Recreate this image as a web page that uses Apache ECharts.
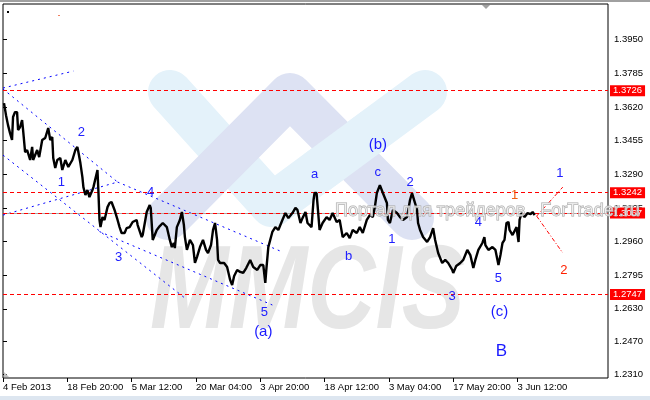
<!DOCTYPE html>
<html><head><meta charset="utf-8">
<script src="https://cdn.jsdelivr.net/npm/echarts@6/dist/echarts.min.js"></script>
<style>html,body{margin:0;padding:0;background:#fff}#c{width:650px;height:400px}</style>
</head><body><div id="c"></div>
<script>
// ---- data ----
const dateLabels = ['4 Feb 2013','18 Feb 20:00','5 Mar 12:00','20 Mar 04:00','3 Apr 20:00','18 Apr 12:00','3 May 04:00','17 May 20:00','3 Jun 12:00'];
const barsPerLabel = 64;
const priceTicks = [1.2310,1.2470,1.2630,1.2795,1.2960,1.3125,1.3290,1.3455,1.3620,1.3785,1.3950];

const priceBars = [1,3,5,7,9,10,12,14,15,17,19,20,22,24,27,29,30,34,36,39,42,45,47,49,50,52,54,57,59,62,65,69,72,74,75,77,79,80,82,84,86,89,90,94,95,96,97,99,101,104,106,108,111,114,116,118,121,123,126,129,133,134,138,139,143,146,147,149,153,156,159,163,166,168,170,171,173,176,178,180,181,183,186,189,191,193,196,199,202,204,207,209,211,213,214,216,220,223,226,228,230,233,236,239,242,246,249,253,256,259,261,262,264,268,271,274,278,281,284,288,291,293,296,298,301,303,307,309,310,312,313,315,318,322,325,328,332,335,338,342,345,348,352,355,358,362,365,368,370,372,375,378,382,383,385,388,392,395,398,402,405,407,410,412,413,415,418,422,425,428,430,433,437,440,443,447,448,451,455,458,462,465,468,470,473,477,479,480,483,487,490,492,493,495,497,499,501,503,504,507,511,512,513,514,516,519,522,525,527,529];
const priceValues = [1.3639,1.3580,1.3531,1.3492,1.3458,1.3571,1.3595,1.3595,1.3507,1.3522,1.3556,1.3507,1.3399,1.3409,1.3360,1.3424,1.3360,1.3409,1.3374,1.3458,1.3468,1.3517,1.3458,1.3473,1.3370,1.3321,1.3360,1.3370,1.3311,1.3360,1.3326,1.3360,1.3409,1.3424,1.3399,1.3345,1.3276,1.3227,1.3188,1.3213,1.3178,1.3213,1.3227,1.3311,1.3198,1.3066,1.3031,1.3080,1.3066,1.3129,1.3149,1.3154,1.3115,1.3066,1.3031,1.3002,1.3002,1.3026,1.3031,1.3056,1.3066,1.3041,1.2982,1.2992,1.3105,1.3139,1.3125,1.2968,1.3017,1.3036,1.3051,1.3031,1.2968,1.2933,1.2953,1.2928,1.3031,1.3066,1.3105,1.3041,1.2982,1.2919,1.2968,1.2943,1.2855,1.2884,1.2933,1.2968,1.2919,1.2904,1.2943,1.3017,1.3051,1.2968,1.2870,1.2855,1.2855,1.2835,1.2772,1.2747,1.2791,1.2821,1.2811,1.2806,1.2830,1.2870,1.2835,1.2821,1.2845,1.2845,1.2757,1.2821,1.2933,1.3007,1.3031,1.3017,1.3066,1.3100,1.3075,1.3100,1.3125,1.3115,1.3051,1.3075,1.3105,1.3051,1.3031,1.3164,1.3198,1.3198,1.3139,1.3017,1.3051,1.3080,1.3066,1.3100,1.3056,1.3066,1.2982,1.3002,1.2977,1.3017,1.3002,1.3031,1.3002,1.3066,1.3090,1.3080,1.3129,1.3198,1.3237,1.3198,1.3149,1.3066,1.3051,1.3115,1.3100,1.3080,1.3066,1.3080,1.3164,1.3198,1.3149,1.3115,1.3051,1.3017,1.2982,1.2958,1.2982,1.3026,1.2968,1.2904,1.2855,1.2870,1.2855,1.2821,1.2806,1.2840,1.2855,1.2870,1.2919,1.2894,1.2830,1.2870,1.2919,1.2953,1.2982,1.2943,1.2919,1.2933,1.2919,1.2870,1.2845,1.2894,1.2953,1.2968,1.3051,1.3056,1.3017,1.2992,1.3031,1.2992,1.2958,1.3066,1.3100,1.3080,1.3100,1.3095,1.3105,1.3090];

const levelPrices = [1.3726, 1.3242, 1.3067, 1.2747];
const lastPrice = 1.3090;

const waveTexts  = ['2','1','4','3','5','(a)','a','b','c','(b)','1','2','3','4','5','(c)','B','1','1','2'];
const waveBars   = [79,59,148,116,261,260,311,345,374,374,388,406,448,474,494,495,497,510,555,559];
const wavePrices = [1.3492,1.3247,1.3198,1.2879,1.2610,1.2512,1.3286,1.2884,1.3296,1.3428,1.2968,1.3247,1.2688,1.3051,1.2776,1.2610,1.2419,1.3183,1.3291,1.2816];
const waveDegree = ['minute','minute','minute','minute','minute','minor','minute','minute','minute','minor','minute','minute','minute','minute','minute','minor','intermediate','proj1','minute','proj2'];

const channelLines = [
  [[0,1.3713],[70,1.3796]],
  [[0,1.3708],[114,1.3252]],
  [[0,1.3090],[114,1.3252]],
  [[114,1.3252],[278,1.2909]],
  [[0,1.3384],[181,1.2683]],
  [[96,1.3009],[268,1.2649]]
];
const projectionLines = [
  [[531,1.3085],[557,1.3227]],
  [[531,1.3085],[557,1.2904]]
];

// ---- chart ----
const chart = echarts.init(document.getElementById('c'), null, {renderer:'canvas'});
const FONT = 'Liberation Sans';
const degreeStyle = {
  minute: {color:'#2020ff', fontSize:13},
  minor: {color:'#1a1aff', fontSize:15},
  intermediate: {color:'#1a1aff', fontSize:17},
  proj1: {color:'#f06010', fontSize:13},
  proj2: {color:'#ff2000', fontSize:13}
};
const dateTicks = dateLabels.map((_, i) => i * barsPerLabel);
const boxLabel = (v, bg) => ({show:true, position:'end', distance:2, formatter:()=>v.toFixed(4),
  color:'#fff', backgroundColor:bg, padding:[1,3,0,3], fontSize:9.5, fontFamily:FONT});

const series = [];
series.push({
  type:'line', data: priceBars.map((b,i)=>[b, priceValues[i]]), symbol:'none',
  lineStyle:{color:'#000', width:2.4}, z:5, silent:true,
  markLine:{symbol:'none', silent:true, animation:false,
    data: [{yAxis:lastPrice, lineStyle:{color:'#a8a8a8', type:'solid', width:1}, label:{show:false}}]
      .concat(levelPrices.map(v=>({yAxis:v, lineStyle:{color:'#ff0000', type:[4,3], width:1}, label:boxLabel(v,'#ff0000')})))}
});
channelLines.forEach(l=>series.push({type:'line', data:l, symbol:'none', silent:true, z:3,
  lineStyle:{color:'#0000ff', width:1, type:[2,4]}}));
projectionLines.forEach(l=>series.push({type:'line', data:l, symbol:'none', silent:true, z:3,
  lineStyle:{color:'#ff0000', width:1, type:[4,2,1,2]}}));
series.push({
  type:'scatter', symbolSize:2, itemStyle:{color:'rgba(0,0,0,0)'}, silent:true, z:6,
  labelLayout:{hideOverlap:false},
  data: waveTexts.map((t,i)=>({name:t, value:[waveBars[i], wavePrices[i]],
    label:{show:true, position:[0,0], align:'center', verticalAlign:'middle', formatter:'{b}', fontFamily:FONT,
      textBorderWidth:0, opacity:1,
      color:degreeStyle[waveDegree[i]].color, fontSize:degreeStyle[waveDegree[i]].fontSize}}))
});

chart.setOption({
  animation:false,
  grid:{left:3, right:42, top:4, bottom:22, show:true, borderColor:'#000', borderWidth:1, backgroundColor:'transparent'},
  xAxis:{type:'value', min:0, max:602, position:'bottom',
    axisLine:{show:false}, splitLine:{show:false},
    axisTick:{show:true, length:4, lineStyle:{color:'#000'}, customValues:dateTicks},
    axisLabel:{customValues:dateTicks, align:'left', margin:4, color:'#000', fontSize:9.5, fontFamily:FONT,
      formatter:(v)=>dateLabels[Math.round(v/barsPerLabel)] || ''}},
  yAxis:{type:'value', min:1.2291, max:1.4125, position:'right',
    axisLine:{show:false}, splitLine:{show:false},
    axisTick:{show:true, length:4, inside:false, lineStyle:{color:'#000'}, customValues:priceTicks},
    axisLabel:{customValues:priceTicks, margin:6, color:'#000', fontSize:9.5, fontFamily:FONT,
      formatter:(v)=>v.toFixed(4)}},
  series: series,
  graphic:[
    {type:'rect', shape:{x:0,y:0,width:650,height:2}, style:{fill:'#a0a0a0'}, z:-10, silent:true},
    {type:'rect', shape:{x:0,y:396,width:650,height:4}, style:{fill:'#dde6f0'}, z:-10, silent:true},
    {type:'polyline', shape:{points:[[170,92],[272,205],[425,92]]}, style:{stroke:'#e4f2fa', fill:null, lineWidth:44, lineCap:'round', lineJoin:'round'}, z:-5, silent:true},
    {type:'polyline', shape:{points:[[168,218],[290,95],[412,218]]}, style:{stroke:'#dde2f3', fill:null, lineWidth:44, lineCap:'round', lineJoin:'round'}, z:-4, silent:true},
    {type:'polyline', shape:{points:[[317,172],[374,130]]}, style:{stroke:'#e4f2fa', fill:null, lineWidth:44, lineCap:'butt'}, z:-3, silent:true},
    {type:'text', x:150, y:236, scaleX:0.8, style:{text:'MMCIS', font:'italic bold 118px "Liberation Sans"', fill:'#e6e6e6', verticalAlign:'top'}, z:-2, silent:true},
    {type:'text', x:335, y:202, style:{text:'Портал для трейдеров   ForTrader.ru', font:'18px "Liberation Sans"', fill:'rgba(255,255,255,0.55)', stroke:'#a8a8a8', lineWidth:1, verticalAlign:'top'}, z:50, silent:true},
    {type:'polygon', shape:{points:[[482,5],[490,5],[486,9]]}, style:{fill:'#a0a0a0'}, z:60, silent:true},
    {type:'polygon', shape:{points:[[4,372],[4,377],[9,377]]}, style:{fill:'#c0c0c0'}, z:60, silent:true},
    {type:'rect', shape:{x:7,y:11,width:2,height:2}, style:{fill:'#000'}, z:60, silent:true},
    {type:'rect', shape:{x:58,y:15,width:2,height:1}, style:{fill:'#f08060'}, z:60, silent:true}
  ]
});
</script></body></html>
